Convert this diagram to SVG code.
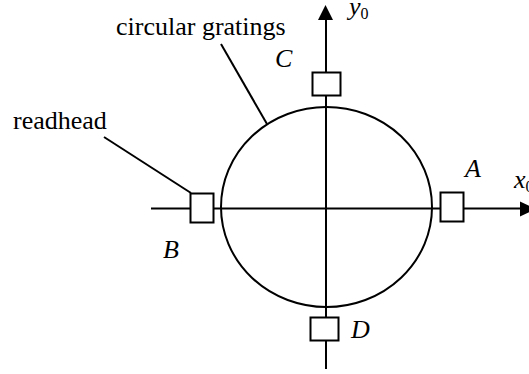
<svg xmlns="http://www.w3.org/2000/svg" width="529" height="374" viewBox="0 0 529 374">
<style>
.l{stroke:#000;stroke-width:2;fill:none}
.b{stroke:#000;stroke-width:2;fill:#fff}
.t{font-family:"Liberation Serif","Times New Roman",serif;font-size:26px;fill:#000}
.i{font-style:italic}
.s{font-size:16px}
</style>
<rect width="529" height="374" fill="#fff"/>
<g id="connectors">
<path class="l" d="M151 208.500H522"/>
<path class="l" d="M326 369V18"/>
<path class="l" d="M104 137L191 193"/>
<path class="l" d="M221 44L267 124"/>
<path d="M318 20L325.500 5L333 20Z"/>
<path d="M520 201.500L536 209L520 216.500Z"/>
</g>
<g id="gratings"><ellipse class="l" cx="326.500" cy="207" rx="105.500" ry="100"/><text class="t" x="116" y="35">circular gratings</text></g>
<g id="readhead-A"><rect class="b" x="440.500" y="192.500" width="23" height="29"/><text class="t i" x="465" y="177">A</text></g>
<g id="readhead-B"><rect class="b" x="190.500" y="193.500" width="23" height="29"/><text class="t i" x="163" y="258">B</text></g>
<g id="readhead-C"><rect class="b" x="312.500" y="72.500" width="28" height="23"/><text class="t i" x="275" y="67">C</text></g>
<g id="readhead-D"><rect class="b" x="310.500" y="317.500" width="28" height="23"/><text class="t i" x="351" y="338">D</text></g>
<g id="label-readhead"><text class="t" x="13" y="129">readhead</text></g>
<g id="axis-y"><text class="t i" x="349" y="15">y<tspan class="s" font-style="normal" dy="4">0</tspan></text></g>
<g id="axis-x"><text class="t i" x="514" y="188">x<tspan class="s" font-style="normal" dy="4">0</tspan></text></g>
</svg>
